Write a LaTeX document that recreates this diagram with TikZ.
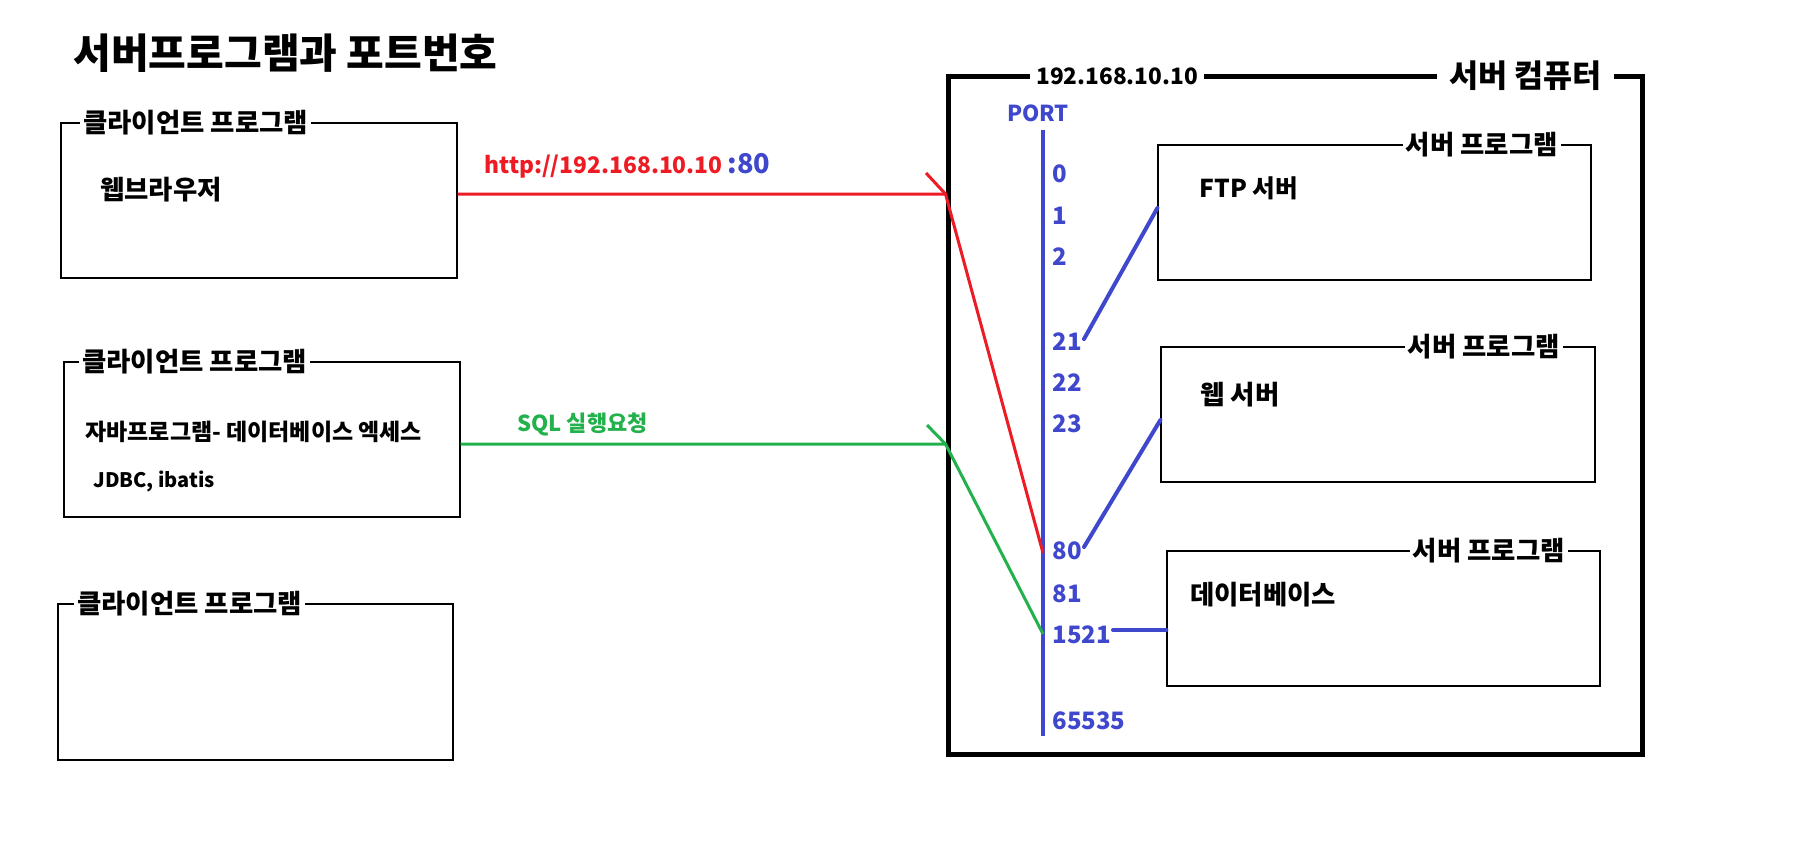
\documentclass[tikz,border=0pt]{standalone}
\usepackage{fontspec}
\setmainfont{Noto Sans CJK KR}
\usetikzlibrary{fit}
\definecolor{pred}{HTML}{ED1C24}
\definecolor{pgreen}{HTML}{22B14C}
\definecolor{pblue}{HTML}{3F48CC}
\newcommand{\fs}[1]{\bfseries\fontsize{#1}{#1}\selectfont}
\begin{document}
\begin{tikzpicture}[x=0.5pt,y=-0.5pt,
  box/.style={draw=black, line width=0.6pt, inner sep=0pt},
  lbl/.style={fill=white, inner sep=1.5pt, font=\fs{13.2}},
  txt/.style={inner sep=0pt, anchor=west, font=\fs{13.2}},
  portnum/.style={inner sep=0pt, anchor=west, text=pblue, font=\fs{12}},
  conn/.style={line width=1.5pt},
  plink/.style={draw=pblue, line width=2pt, line cap=round}]
\useasboundingbox[fill=white] (0,0) rectangle (1808,848);

% title
\node[txt, font=\fs{20.5}] (title) at (73,53) {서버프로그램과 포트번호};

% client boxes
\node[box, fit={(61,123)(457,278)}] (c1) {};
\node[lbl, anchor=west] (c1l) at (80,123) {클라이언트 프로그램};
\node[txt] (c1t) at (100,190) {웹브라우저};

\node[box, fit={(64,362)(460,517)}] (c2) {};
\node[lbl, anchor=west] (c2l) at (79,362) {클라이언트 프로그램};
\node[txt, font=\fs{11.5}] (c2t) at (85,432) {자바프로그램- 데이터베이스 엑세스};
\node[txt, font=\fs{10}] (c2j) at (93,481) {JDBC, ibatis};

\node[box, fit={(58,604)(453,760)}] (c3) {};
\node[lbl, anchor=west] (c3l) at (74,604) {클라이언트 프로그램};

% server computer frame
\node[draw=black, line width=2.5pt, inner sep=0pt, fit={(948,76)(1642,754)}] (srv) {};
\node[lbl, anchor=west, inner xsep=3pt, font=\fs{11.3}] (ip) at (1030,76) {192.168.10.10};
\node[lbl, anchor=east, inner xsep=6pt, font=\fs{15.8}] (sc) at (1614,76) {서버 컴퓨터};

% port axis
\node[inner sep=0pt, text=pblue, font=\fs{11}] (port) at (1038,113) {PORT};
\coordinate (ptop) at (1043,130);
\coordinate (pbot) at (1043,736);
\draw[pblue, line width=1.6pt] (ptop) -- (pbot);
\node[portnum] (n0) at (1052,174) {0};
\node[portnum] (n1) at (1052,216) {1};
\node[portnum] (n2) at (1052,257) {2};
\node[portnum] (n21) at (1052,342) {21};
\node[portnum] (n22) at (1052,383) {22};
\node[portnum] (n23) at (1052,424) {23};
\node[portnum] (n80) at (1052,551) {80};
\node[portnum] (n81) at (1052,594) {81};
\node[portnum] (n1521) at (1052,635) {1521};
\node[portnum] (n65535) at (1052,721) {65535};

% server programs
\node[box, fit={(1158,145)(1591,280)}] (ftp) {};
\node[lbl, anchor=east] (ftpl) at (1561,145) {서버 프로그램};
\node[txt, font=\fs{12.3}] (ftpt) at (1199,188) {FTP 서버};

\node[box, fit={(1161,347)(1595,482)}] (web) {};
\node[lbl, anchor=east] (webl) at (1563,347) {서버 프로그램};
\node[txt] (webt) at (1200,395) {웹 서버};

\node[box, fit={(1167,551)(1600,686)}] (db) {};
\node[lbl, anchor=east] (dbl) at (1568,551) {서버 프로그램};
\node[txt] (dbt) at (1190,595) {데이터베이스};

% port to program links
\coordinate (a21) at (1084,339);
\coordinate (a80) at (1084,547);
\coordinate (a1521) at (1113,630);
\draw[plink] (a21) -- (ftp.west |- 0,208);
\draw[plink] (a80) -- (web.west |- 0,420);
\draw[plink] (a1521) -- (db.west |- 0,630);

% http request (red)
\node[inner sep=0pt, anchor=base west, text=pred, font=\fs{11.4}] (url) at (484,173) {http://192.168.10.10 {\color{pblue}\fontsize{13.6}{15}\selectfont :80}};
\coordinate (rj) at (srv.west |- 0,194);
\coordinate (rt) at (926,173);
\coordinate (r80) at (1043,553);
\draw[pred, conn] (c1.east |- 0,194) -- (rj) -- (r80);
\draw[pred, conn] (rt) -- (rj);

% SQL request (green)
\node[inner sep=0pt, anchor=west, text=pgreen, font=\fs{11}] (sql) at (517,424) {SQL 실행요청};
\coordinate (gj) at (srv.west |- 0,444);
\coordinate (gt) at (927,425);
\coordinate (g1521) at (1043,634);
\draw[pgreen, conn] (c2.east |- 0,444) -- (gj) -- (g1521);
\draw[pgreen, conn] (gt) -- (gj);
\end{tikzpicture}
\end{document}
